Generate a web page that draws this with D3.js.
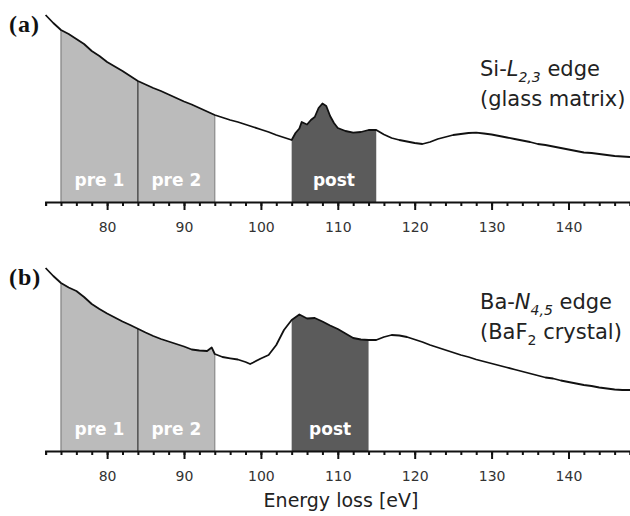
<!DOCTYPE html>
<html>
<head>
<meta charset="utf-8">
<script src="https://cdn.jsdelivr.net/npm/d3@7"></script>
<style>
  html, body { margin: 0; padding: 0; background: #fff; }
  svg { display: block; }
</style>
</head>
<body>
<div id="chart"></div>
<script>
// ── data (intensity in arbitrary units) ─────────────────────────────
const energyA = [72,73,74,75,76,77,78,79,80,81,82,83,84,85,86,87,88,89,90,91,92,93,94,95,96,97,98,99,100,101,102,103,104,104.5,105,105.3,106,106.5,107,107.5,108,108.5,109,109.5,110,111,112,113,114,115,116,117,118,119,120,121,122,123,124,125,126,127,128,129,130,131,132,133,134,135,136,137,138,139,140,141,142,143,144,145,146,147,148];
const intensityA = [187,179,172,168,163,158,151,146,140,135.5,131,126,121,117.5,114,111,107.5,104,100.5,97.5,94,90.5,87,84.5,82,80,77.5,75,72.5,70,67,64.5,62,69,73.5,80,77.5,82,85,94,98.5,96,86,79,74,71,69.3,70,72,72,67.5,64,62,60.5,59,58,60,63,65,67,68,69,69.3,68.5,67.5,66,64.5,63,61.5,60,58,57,55.5,54,52.5,51,49.5,49,48,47,46,45.5,45];

const energyB = [72,73,74,75,76,77,78,79,80,81,82,83,84,85,86,87,88,89,90,91,92,93,93.6,94,95,96,97,98,98.6,99,100,101,102,103,104,105,106,107,108,109,110,111,112,113,114,115,116,117,118,119,120,121,122,123,124,125,126,127,128,129,130,131,132,133,134,135,136,137,138,139,140,141,142,143,144,145,146,147,148];
const intensityB = [183,175,168,163.5,160,154,147,142,137.5,133.5,129.5,126,122.3,118.5,115,112,109.5,107,104.5,101.5,100.5,100,103.5,97,94,92.7,91.5,89,87,88.5,92.5,96,106,121,131,136.5,132.5,133,129.5,125.5,122,117.5,113,111.5,111,111,114,116,115.5,114,111.5,109,106,103.5,101,98.5,96,94,91.5,89.5,87.5,85.5,83.5,81.5,79.5,77.5,75.5,73.5,72.5,70.5,69,67.5,66,65,63.5,62.5,61.5,61,61];

// integration windows [start, end] in eV
const windowNames  = ['pre 1', 'pre 2', 'post'];
const windowsA     = [[74, 84], [84, 94], [104, 115]];
const windowsB     = [[74, 84], [84, 94], [104, 114]];
const windowFills  = ['#bbbbbb', '#bbbbbb', '#5b5b5b'];

const majorTicks = [80, 90, 100, 110, 120, 130, 140];
const minorTicks = d3.range(72, 149, 2);

const W = 630, H = 516;
const SANS = '"DejaVu Sans", Verdana, sans-serif';

const x = d3.scaleLinear().domain([72, 148]).range([45.6, 630]);

const svg = d3.select('#chart').append('svg')
  .attr('width', W).attr('height', H)
  .attr('viewBox', `0 0 ${W} ${H}`);

// note: {main, ital, sub, rest} pieces for the two annotation lines
function drawPanel(id, energy, intensity, windows, baseY, tag, tagY, line1, line2, textY) {
  const y = d3.scaleLinear().domain([0, 200]).range([baseY, baseY - 200]);
  const pts = energy.map((e, i) => [e, intensity[i]]);
  const g = svg.append('g');

  // clip shading to the region under the spectrum
  const clipId = 'clip-' + id;
  g.append('clipPath').attr('id', clipId)
    .append('path')
    .attr('d', d3.area().x(d => x(d[0])).y0(y(0)).y1(d => y(d[1]))(pts));

  const shade = g.append('g').attr('clip-path', `url(#${clipId})`);
  windows.forEach((w, i) => {
    shade.append('rect')
      .attr('x', x(w[0])).attr('width', x(w[1]) - x(w[0]))
      .attr('y', y(200)).attr('height', y(0) - y(200))
      .attr('fill', windowFills[i]);
  });
  const edges = [[windows[0][0], '#808080'], [windows[0][1], '#333'], [windows[1][1], '#8a8a8a']];
  edges.forEach(([e, c]) => {
    shade.append('line')
      .attr('x1', x(e)).attr('x2', x(e))
      .attr('y1', y(0)).attr('y2', y(200))
      .attr('stroke', c).attr('stroke-width', 1.2);
  });

  windows.forEach((w, i) => {
    g.append('text')
      .attr('x', (x(w[0]) + x(w[1])) / 2)
      .attr('y', baseY - 22)
      .attr('dy', '0.35em')
      .attr('text-anchor', 'middle')
      .attr('font-family', SANS)
      .attr('font-weight', 'bold')
      .attr('font-size', 17)
      .attr('fill', '#fff')
      .text(windowNames[i]);
  });

  // spectrum
  g.append('path')
    .attr('d', d3.line().x(d => x(d[0])).y(d => y(d[1]))(pts))
    .attr('fill', 'none')
    .attr('stroke', '#111')
    .attr('stroke-width', 1.8)
    .attr('stroke-linejoin', 'round');

  // axes: minor then major
  const minor = g.append('g').attr('transform', `translate(0,${baseY})`)
    .call(d3.axisBottom(x).tickValues(minorTicks).tickSize(4).tickFormat(''));
  minor.select('.domain').attr('stroke-width', 2).attr('stroke', '#111');
  minor.selectAll('.tick line').attr('stroke-width', 2).attr('stroke', '#111');

  const major = g.append('g').attr('transform', `translate(0,${baseY})`)
    .call(d3.axisBottom(x).tickValues(majorTicks).tickSize(8).tickPadding(12).tickSizeOuter(0));
  major.select('.domain').remove();
  major.selectAll('.tick line').attr('stroke-width', 2).attr('stroke', '#111');
  major.selectAll('.tick text')
    .attr('font-family', SANS).attr('font-size', 14).attr('fill', '#333');

  // panel tag
  g.append('text')
    .attr('x', 9).attr('y', tagY)
    .attr('font-family', '"Liberation Serif", "DejaVu Serif", serif')
    .attr('font-weight', 'bold')
    .attr('font-size', 24)
    .attr('letter-spacing', 1)
    .attr('fill', '#111')
    .text(tag);

  // annotation, left aligned
  [line1, line2].forEach((ln, k) => {
    const t = g.append('text')
      .attr('x', 480).attr('y', textY + k * 30)
      .attr('font-family', SANS).attr('font-size', 21).attr('fill', '#222');
    t.append('tspan').text(ln.main);
    if (ln.ital) t.append('tspan').attr('font-style', 'italic').text(ln.ital);
    if (ln.sub) {
      t.append('tspan').attr('font-size', 14).attr('dy', 6)
        .attr('font-style', ln.ital ? 'italic' : 'normal').text(ln.sub);
      t.append('tspan').attr('dy', -6).text(ln.rest);
    }
  });
}

drawPanel('a', energyA, intensityA, windowsA, 202, '(a)', 32,
  { main: 'Si-', ital: 'L', sub: '2,3', rest: ' edge' },
  { main: '(glass matrix)' }, 76);
drawPanel('b', energyB, intensityB, windowsB, 451, '(b)', 285,
  { main: 'Ba-', ital: 'N', sub: '4,5', rest: ' edge' },
  { main: '(BaF', sub: '2', rest: ' crystal)' }, 309);

svg.append('text')
  .attr('x', 341).attr('y', 500)
  .attr('dy', '0.35em')
  .attr('text-anchor', 'middle')
  .attr('font-family', SANS).attr('font-size', 19).attr('fill', '#222')
  .text('Energy loss [eV]');
</script>
</body>
</html>
